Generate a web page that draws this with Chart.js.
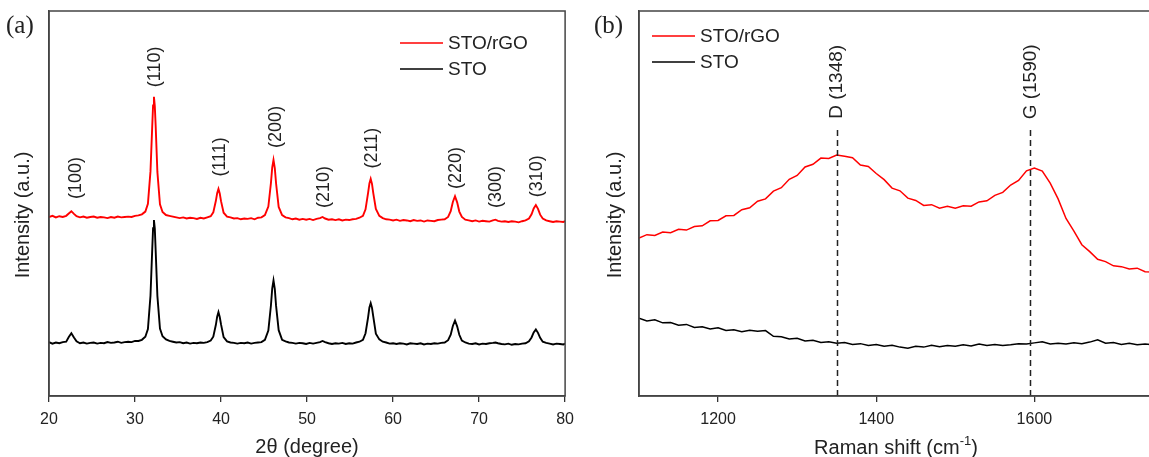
<!DOCTYPE html>
<html>
<head>
<meta charset="utf-8">
<script src="https://cdn.jsdelivr.net/npm/chart.js@4.4.1/dist/chart.umd.min.js"></script>
<style>
html,body{margin:0;padding:0;background:#fff;overflow:hidden;width:1149px;height:457px}
canvas{position:absolute;top:0}
</style>
</head>
<body>
<canvas id="xrd" width="582" height="457" style="left:0"></canvas>
<canvas id="raman" width="590" height="457" style="left:580px"></canvas>
<script>
// (a) XRD, 2theta in degrees, intensity in arbitrary units (0-100 frame)
const xrdAngle = [
  20.0, 20.4, 20.8, 21.2, 21.6, 22.0, 22.3, 22.6, 22.9, 23.2,
  23.6, 24.0, 24.4, 24.8, 25.2, 25.6, 26.0, 26.4, 26.8, 27.2,
  27.6, 28.0, 28.4, 28.8, 29.2, 29.6, 30.0, 30.4, 30.8, 31.2,
  31.5, 31.8, 32.0, 32.1, 32.2, 32.3, 32.4, 32.6, 32.9, 33.2,
  33.6, 34.0, 34.4, 34.8, 35.2, 35.6, 36.0, 36.4, 36.8, 37.2,
  37.6, 38.0, 38.4, 38.8, 39.1, 39.4, 39.55, 39.7, 39.85, 40.0,
  40.3, 40.7, 41.1, 41.5, 41.9, 42.3, 42.7, 43.1, 43.5, 43.9,
  44.3, 44.7, 45.1, 45.5, 45.8, 45.95, 46.1, 46.25, 46.4, 46.7,
  47.1, 47.5, 47.9, 48.3, 48.7, 49.1, 49.5, 49.9, 50.3, 50.7,
  51.1, 51.5, 51.8, 52.1, 52.5, 52.9, 53.3, 53.7, 54.1, 54.5,
  54.9, 55.3, 55.7, 56.1, 56.5, 56.8, 57.1, 57.25, 57.4, 57.55,
  57.7, 58.0, 58.4, 58.8, 59.2, 59.6, 60.0, 60.4, 60.8, 61.2,
  61.6, 62.0, 62.4, 62.8, 63.2, 63.6, 64.0, 64.4, 64.8, 65.2,
  65.6, 66.0, 66.4, 66.7, 66.95, 67.2, 67.45, 67.7, 68.0, 68.4,
  68.8, 69.2, 69.6, 70.0, 70.4, 70.8, 71.2, 71.6, 71.9, 72.2,
  72.6, 73.0, 73.4, 73.8, 74.2, 74.6, 75.0, 75.4, 75.8, 76.1,
  76.35, 76.6, 76.85, 77.1, 77.4, 77.8, 78.2, 78.6, 79.0, 79.4,
  79.8, 80.0
];
const xrdSTO = [
  14.0, 13.6, 13.9, 13.7, 14.0, 14.1, 15.3, 16.3, 15.2, 14.2,
  13.7, 13.9, 13.6, 13.8, 13.9, 13.6, 13.8, 13.7, 14.0, 13.8,
  13.9, 14.1, 13.8, 14.0, 14.1, 14.0, 14.3, 14.3, 14.6, 15.4,
  17.4, 26.1, 38.0, 43.6, 45.7, 43.5, 37.8, 26.0, 17.5, 15.5,
  14.7, 14.3, 14.1, 13.9, 14.0, 13.7, 13.9, 13.6, 13.8, 13.7,
  13.9, 13.8, 14.0, 14.4, 15.4, 18.5, 20.6, 21.8, 20.5, 18.6,
  15.3, 14.2, 13.9, 13.8, 13.6, 13.8, 13.7, 13.9, 13.6, 13.8,
  13.9, 14.0, 14.6, 17.0, 23.5, 27.9, 30.0, 27.8, 23.4, 17.1,
  14.6, 14.2, 13.9, 13.8, 13.6, 13.8, 13.7, 13.5, 13.8, 13.6,
  13.8, 14.0, 14.3, 14.0, 13.7, 13.5, 13.7, 13.6, 13.8, 13.5,
  13.7, 13.6, 13.9, 14.1, 14.6, 16.3, 20.5, 23.0, 24.1, 22.9,
  20.6, 16.2, 14.7, 14.1, 13.9, 13.6, 13.7, 13.5, 13.7, 13.6,
  13.4, 13.7, 13.6, 13.5, 13.7, 13.4, 13.6, 13.5, 13.7, 13.6,
  13.8, 13.9, 14.5, 15.9, 18.2, 19.6, 18.1, 15.9, 14.4, 13.9,
  13.6, 13.5, 13.7, 13.4, 13.6, 13.5, 13.7, 13.8, 13.9, 13.7,
  13.5, 13.4, 13.6, 13.3, 13.5, 13.4, 13.6, 13.7, 14.2, 15.2,
  16.5, 17.3, 16.4, 15.1, 14.1, 13.8, 13.6, 13.4, 13.6, 13.5,
  13.4, 13.6
];
const xrdRGO = [
  46.5, 46.8, 46.4, 46.7, 46.5, 46.8, 47.4, 48.0, 47.3, 46.7,
  46.4, 46.6, 46.3, 46.5, 46.6, 46.3, 46.5, 46.4, 46.2, 46.5,
  46.3, 46.6, 46.4, 46.5, 46.6, 46.5, 46.8, 46.9, 47.2, 47.9,
  49.9, 58.4, 70.0, 75.5, 77.7, 75.3, 70.2, 58.2, 49.8, 47.8,
  47.0, 46.8, 46.6, 46.4, 46.2, 46.4, 46.1, 46.3, 46.2, 46.0,
  46.3, 46.1, 46.4, 46.7, 47.7, 50.7, 52.7, 53.8, 52.6, 50.6,
  47.6, 46.6, 46.4, 46.1, 46.2, 45.9, 46.1, 46.0, 46.2, 45.9,
  46.3, 46.4, 47.0, 49.2, 55.3, 59.3, 61.3, 59.2, 55.2, 49.1,
  47.0, 46.4, 46.2, 45.9, 46.1, 45.8, 46.0, 45.8, 46.0, 45.7,
  46.0, 46.2, 46.5, 46.1, 45.8, 45.9, 45.7, 45.9, 45.6, 45.8,
  45.7, 45.9, 46.0, 46.3, 46.8, 48.5, 52.8, 55.2, 56.4, 55.1,
  52.7, 48.6, 46.8, 46.2, 45.9, 45.8, 45.6, 45.8, 45.5, 45.7,
  45.6, 45.4, 45.7, 45.5, 45.6, 45.3, 45.6, 45.5, 45.4, 45.7,
  45.8, 45.9, 46.5, 48.0, 50.4, 51.9, 50.3, 47.9, 46.5, 45.8,
  45.6, 45.4, 45.6, 45.3, 45.5, 45.4, 45.3, 45.6, 45.8, 45.5,
  45.3, 45.4, 45.2, 45.4, 45.3, 45.1, 45.4, 45.6, 46.1, 47.2,
  48.7, 49.6, 48.6, 47.1, 46.1, 45.6, 45.4, 45.2, 45.4, 45.3,
  45.2, 45.4
];
const xrdTicks = [20, 30, 40, 50, 60, 70, 80];
const peakLabels = ['(100)', '(110)', '(111)', '(200)', '(210)', '(211)', '(220)', '(300)', '(310)'];
const peakLabelX = [23.1, 32.3, 39.9, 46.4, 52.0, 57.6, 67.3, 72.0, 76.7];
const peakLabelY = [56.6, 85.5, 62.1, 69.9, 54.3, 64.4, 59.2, 54.3, 57.1];

// (b) Raman, shift in cm-1
const ramanShift = [
  1100, 1110, 1120, 1130, 1140, 1150, 1160, 1170, 1180, 1190,
  1200, 1210, 1220, 1230, 1240, 1250, 1260, 1270, 1280, 1290,
  1300, 1310, 1320, 1330, 1340, 1350, 1360, 1370, 1380, 1390,
  1400, 1410, 1420, 1430, 1440, 1450, 1460, 1470, 1480, 1490,
  1500, 1510, 1520, 1530, 1540, 1550, 1560, 1570, 1580, 1590,
  1600, 1610, 1620, 1630, 1640, 1650, 1660, 1670, 1680, 1690,
  1700, 1710, 1720, 1730, 1740, 1750
];
const ramanRGO = [
  41.0, 41.9, 41.7, 42.6, 42.4, 43.3, 43.1, 44.0, 44.2, 45.5,
  45.6, 46.8, 46.9, 48.4, 48.9, 50.6, 51.2, 53.2, 54.1, 56.3,
  57.3, 59.5, 60.2, 61.8, 61.7, 62.6, 62.3, 61.9, 60.0, 59.6,
  57.8, 56.2, 54.0, 53.3, 51.4, 50.8, 49.5, 49.7, 48.8, 49.3,
  48.8, 49.4, 49.3, 50.4, 50.7, 52.1, 52.9, 54.8, 56.0, 58.5,
  59.2, 58.4, 55.3, 51.2, 46.1, 42.8, 39.3, 37.5, 35.5, 34.9,
  33.8, 33.6, 33.0, 33.2, 32.3, 32.2
];
const ramanSTO = [
  20.2, 19.5, 19.8, 19.0, 19.1, 18.4, 18.6, 17.8, 18.0, 17.4,
  17.7, 17.0, 17.2, 16.7, 17.1, 16.8, 17.0, 15.5, 15.4, 14.8,
  15.0, 14.3, 14.5, 13.9, 14.1, 13.7, 13.9, 13.4, 13.6, 13.1,
  13.4, 12.9, 13.2, 12.7, 12.4, 12.9, 12.7, 13.2, 12.8, 13.1,
  12.9, 13.3, 13.0, 13.5, 13.1, 13.4, 13.1, 13.3, 13.6, 13.5,
  13.8, 14.1, 13.5, 13.7, 13.5, 13.8, 13.6, 14.0, 14.6, 13.7,
  13.9, 13.4, 13.7, 13.3, 13.5, 13.3
];
const ramanTicks = [1200, 1400, 1600];
const bandLabels = ['D (1348)', 'G (1590)'];
const bandPos = [1350, 1595];
const bandTop = 69.6;
const bandLabelY = 81.6;

const SANS = '"Liberation Sans", Arial, sans-serif';
const SERIF = '"Liberation Serif", "Times New Roman", serif';
const INK = '#222';

function pts(xs, ys) {
  return xs.map((v, i) => ({x: v, y: ys[i]}));
}

function vtext(ctx, t, x, y) {
  ctx.save();
  ctx.translate(x, y);
  ctx.rotate(-Math.PI / 2);
  ctx.fillText(t, 0, 0);
  ctx.restore();
}

function legend(ctx, x0, y0) {
  const rows = [['STO/rGO', 'rgb(255,0,0)'], ['STO', '#000']];
  ctx.font = '19px ' + SANS;
  ctx.textAlign = 'left';
  ctx.textBaseline = 'middle';
  rows.forEach((r, i) => {
    const y = y0 + i * 26;
    ctx.strokeStyle = r[1];
    ctx.lineWidth = 1.5;
    ctx.beginPath();
    ctx.moveTo(x0, y);
    ctx.lineTo(x0 + 43, y);
    ctx.stroke();
    ctx.fillStyle = INK;
    ctx.fillText(r[0], x0 + 48, y + 1);
  });
}

function frame(ctx, a) {
  ctx.strokeStyle = '#444';
  ctx.lineWidth = 1.5;
  ctx.strokeRect(a.left, a.top, a.right - a.left, a.bottom - a.top);
}

function xAxis(min, max, ticks, h, title) {
  return {
    type: 'linear', position: 'bottom', min: min, max: max,
    afterBuildTicks: s => { s.ticks = ticks.map(v => ({value: v})); },
    afterFit: s => { s.height = h; },
    ticks: {color: INK, font: {family: SANS, size: 16}, padding: 8, maxRotation: 0,
            callback: v => String(v)},
    grid: {drawOnChartArea: false, drawTicks: true, tickLength: 6, color: '#333', lineWidth: 1.3},
    border: {display: true, color: '#444', width: 1.5},
    title: title ? {display: true, text: title, color: INK, font: {family: SANS, size: 20, lineHeight: 1}, padding: 0} : {display: false}
  };
}

function yAxis(w) {
  return {
    type: 'linear', min: 0, max: 100,
    afterFit: s => { s.width = w; },
    ticks: {display: false},
    grid: {display: false},
    border: {display: true, color: '#444', width: 1.5}
  };
}

const xrdDecor = {
  id: 'xrdDecor',
  afterDatasetsDraw(chart) {
    const {ctx, chartArea: a, scales: {x, y}} = chart;
    ctx.save();
    frame(ctx, a);
    ctx.fillStyle = INK;
    ctx.font = '18px ' + SANS;
    ctx.textAlign = 'center';
    ctx.textBaseline = 'middle';
    peakLabels.forEach((t, i) => vtext(ctx, t, x.getPixelForValue(peakLabelX[i]), y.getPixelForValue(peakLabelY[i])));
    ctx.font = '20px ' + SANS;
    vtext(ctx, 'Intensity (a.u.)', 23, 215);
    ctx.font = '25px ' + SERIF;
    ctx.textAlign = 'left';
    ctx.fillText('(a)', 6, 26);
    legend(ctx, 400, 43);
    ctx.restore();
  }
};

const ramanDecor = {
  id: 'ramanDecor',
  afterDatasetsDraw(chart) {
    const {ctx, chartArea: a, scales: {x, y}} = chart;
    ctx.save();
    ctx.strokeStyle = INK;
    ctx.lineWidth = 1.5;
    ctx.setLineDash([6, 4]);
    bandPos.forEach(v => {
      const px = Math.round(x.getPixelForValue(v)) + 0.5;
      ctx.beginPath();
      ctx.moveTo(px, a.bottom);
      ctx.lineTo(px, y.getPixelForValue(bandTop));
      ctx.stroke();
    });
    ctx.setLineDash([]);
    frame(ctx, a);
    ctx.fillStyle = INK;
    ctx.font = '19px ' + SANS;
    ctx.textAlign = 'center';
    ctx.textBaseline = 'middle';
    bandLabels.forEach((t, i) => vtext(ctx, t, x.getPixelForValue(bandPos[i]), y.getPixelForValue(bandLabelY)));
    ctx.font = '20px ' + SANS;
    vtext(ctx, 'Intensity (a.u.)', 35, 215);
    ctx.font = '25px ' + SERIF;
    ctx.textAlign = 'left';
    ctx.fillText('(b)', 14, 26);
    legend(ctx, 72, 36);

    // x title with superscript
    const cx = (a.left + a.right) / 2, ty = 448;
    const main = 'Raman shift (cm', sup = '-1', end = ')';
    ctx.font = '20px ' + SANS;
    const w1 = ctx.measureText(main).width, w3 = ctx.measureText(end).width;
    ctx.font = '13px ' + SANS;
    const w2 = ctx.measureText(sup).width;
    let sx = cx - (w1 + w2 + w3) / 2;
    ctx.textAlign = 'left';
    ctx.font = '20px ' + SANS;
    ctx.fillText(main, sx, ty);
    ctx.font = '13px ' + SANS;
    ctx.fillText(sup, sx + w1, ty - 7);
    ctx.font = '20px ' + SANS;
    ctx.fillText(end, sx + w1 + w2, ty);
    ctx.restore();
  }
};

function lineSet(label, data, color, w) {
  return {label: label, data: data, borderColor: color, borderWidth: w,
          pointRadius: 0, showLine: true, tension: 0, fill: false};
}

new Chart(document.getElementById('xrd').getContext('2d'), {
  type: 'scatter',
  data: {datasets: [
    lineSet('STO', pts(xrdAngle, xrdSTO), '#000', 1.9),
    lineSet('STO/rGO', pts(xrdAngle, xrdRGO), 'rgb(255,0,0)', 1.9)
  ]},
  options: {
    responsive: false, animation: false, devicePixelRatio: 1,
    layout: {padding: {left: 0, right: 15, top: 11, bottom: 0}},
    plugins: {legend: {display: false}, tooltip: {enabled: false}},
    scales: {x: xAxis(20, 80, xrdTicks, 61, '2θ (degree)'), y: yAxis(49)}
  },
  plugins: [xrdDecor]
});

new Chart(document.getElementById('raman').getContext('2d'), {
  type: 'scatter',
  data: {datasets: [
    lineSet('STO', pts(ramanShift, ramanSTO), '#000', 1.5),
    lineSet('STO/rGO', pts(ramanShift, ramanRGO), 'rgb(255,0,0)', 1.5)
  ]},
  options: {
    responsive: false, animation: false, devicePixelRatio: 1,
    layout: {padding: {left: 0, right: 17, top: 11, bottom: 0}},
    plugins: {legend: {display: false}, tooltip: {enabled: false}},
    scales: {x: xAxis(1100, 1750, ramanTicks, 61, null), y: yAxis(59)}
  },
  plugins: [ramanDecor]
});
</script>
</body>
</html>
